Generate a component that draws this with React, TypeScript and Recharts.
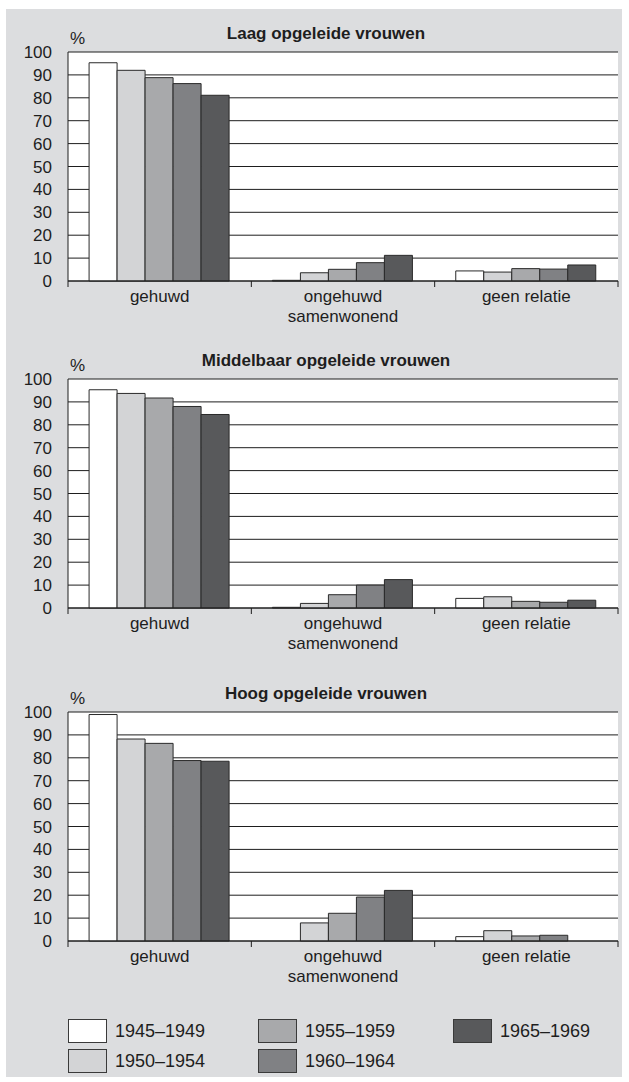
import React from "react";
import { BarChart, Bar, XAxis, YAxis, CartesianGrid } from "recharts";

const PERIODS = ["1945–1949", "1950–1954", "1955–1959", "1960–1964", "1965–1969"];
const CATEGORIES = ["gehuwd", "ongehuwd\nsamenwonend", "geen relatie"];
const Y_TICKS = [0, 10, 20, 30, 40, 50, 60, 70, 80, 90, 100];

// per panel, one array per birth cohort: [gehuwd, ongehuwd samenwonend, geen relatie]
const LAAG_1945 = [95.3, 0.3, 4.4];
const LAAG_1950 = [92.0, 3.6, 3.9];
const LAAG_1955 = [88.8, 5.1, 5.4];
const LAAG_1960 = [86.2, 8.0, 5.2];
const LAAG_1965 = [81.1, 11.2, 7.0];

const MIDDEL_1945 = [95.3, 0.3, 4.2];
const MIDDEL_1950 = [93.7, 2.0, 4.9];
const MIDDEL_1955 = [91.7, 5.8, 2.9];
const MIDDEL_1960 = [88.0, 10.0, 2.5];
const MIDDEL_1965 = [84.5, 12.4, 3.4];

const HOOG_1945 = [98.9, 0, 1.9];
const HOOG_1950 = [88.2, 7.9, 4.5];
const HOOG_1955 = [86.3, 12.1, 2.2];
const HOOG_1960 = [78.8, 19.2, 2.5];
const HOOG_1965 = [78.5, 22.1, 0];

const PANELS = [
  { title: "Laag opgeleide vrouwen", series: [LAAG_1945, LAAG_1950, LAAG_1955, LAAG_1960, LAAG_1965] },
  { title: "Middelbaar opgeleide vrouwen", series: [MIDDEL_1945, MIDDEL_1950, MIDDEL_1955, MIDDEL_1960, MIDDEL_1965] },
  { title: "Hoog opgeleide vrouwen", series: [HOOG_1945, HOOG_1950, HOOG_1955, HOOG_1960, HOOG_1965] },
];

const COLORS = ["#ffffff", "#d3d4d6", "#a8a9ab", "#808184", "#58595b"];
const INK = "#1e1e1e";
const BG = "#dcdddf";
const FONT = '"Liberation Sans", Arial, sans-serif';

const CHART_W = 629;
const CHART_H = 340;
const PLOT_LEFT = 68;
const PLOT_RIGHT = 618;
const PANEL_TOPS = [0, 327, 660];
const BAND = (PLOT_RIGHT - PLOT_LEFT) / CATEGORIES.length;

const toRows = (series: number[][]) =>
  CATEGORIES.map((name, i) => {
    const row: Record<string, string | number> = { name };
    PERIODS.forEach((p, s) => {
      row[p] = series[s][i];
    });
    return row;
  });

// eslint-disable-next-line @typescript-eslint/no-explicit-any
const CategoryTick = (props: any) => {
  const { x, y, payload, index } = props;
  const lines = String(payload.value).split("\n");
  const half = BAND / 2;
  return (
    <g>
      <line x1={x - half} x2={x - half} y1={y} y2={y + 6} stroke={INK} />
      {index === CATEGORIES.length - 1 && (
        <line x1={x + half} x2={x + half} y1={y} y2={y + 6} stroke={INK} />
      )}
      <text x={x} y={y} textAnchor="middle" fontSize={17} fill={INK}>
        {lines.map((l, i) => (
          <tspan key={i} x={x} dy={i === 0 ? 21 : 20}>
            {l}
          </tspan>
        ))}
      </text>
    </g>
  );
};

const Panel = ({ title, series, top }: { title: string; series: number[][]; top: number }) => (
  <div style={{ position: "absolute", left: 0, top, width: CHART_W, height: CHART_H }}>
    <div
      style={{
        position: "absolute",
        left: 326,
        top: 24,
        transform: "translateX(-50%)",
        whiteSpace: "nowrap",
        fontWeight: "bold",
        fontSize: 17,
        lineHeight: "20px",
        color: INK,
      }}
    >
      {title}
    </div>
    <div style={{ position: "absolute", left: 70, top: 29, fontSize: 17, lineHeight: "20px", color: INK }}>%</div>
    <BarChart
      width={CHART_W}
      height={CHART_H}
      data={toRows(series)}
      margin={{ top: 52, right: CHART_W - PLOT_RIGHT, left: 0, bottom: 0 }}
      barCategoryGap="11.5%"
      barGap={0}
    >
      <CartesianGrid vertical={false} stroke={INK} fill="#ffffff" strokeOpacity={1} />
      <XAxis
        dataKey="name"
        interval={0}
        height={CHART_H - 52 - 229}
        tickLine={false}
        tickSize={0}
        tickMargin={0}
        axisLine={{ stroke: INK }}
        tick={<CategoryTick />}
      />
      <YAxis
        width={PLOT_LEFT}
        domain={[0, 100]}
        ticks={Y_TICKS}
        interval={0}
        tickLine={false}
        tickSize={0}
        tickMargin={16}
        axisLine={{ stroke: INK }}
        tick={{ fontSize: 17, fill: INK }}
      />
      <YAxis
        yAxisId="right"
        orientation="right"
        width={0}
        domain={[0, 100]}
        tick={false}
        tickLine={false}
        axisLine={{ stroke: INK }}
      />
      {PERIODS.map((p, i) => (
        <Bar key={p} dataKey={p} fill={COLORS[i]} stroke="#2a2a2a" strokeWidth={1} isAnimationActive={false} />
      ))}
    </BarChart>
  </div>
);

const LEGEND_COLS = [68, 258, 453];
const LEGEND_ROWS = [1019, 1049];

export default function App() {
  return (
    <div
      style={{
        position: "absolute",
        left: 0,
        top: 0,
        width: CHART_W,
        height: 1082,
        fontFamily: FONT,
        background: "#ffffff",
      }}
    >
      <div style={{ position: "absolute", left: 6, top: 9, width: 616, height: 1068, background: BG }} />
      {PANELS.map((p, i) => (
        <Panel key={p.title} title={p.title} series={p.series} top={PANEL_TOPS[i]} />
      ))}
      {PERIODS.map((p, i) => (
        <div
          key={p}
          style={{
            position: "absolute",
            left: LEGEND_COLS[Math.floor(i / 2)],
            top: LEGEND_ROWS[i % 2],
            display: "flex",
            alignItems: "center",
            height: 24,
          }}
        >
          <div
            style={{
              width: 37,
              height: 22,
              background: COLORS[i],
              border: "1px solid #3a3a3a",
            }}
          />
          <span style={{ marginLeft: 8, fontSize: 18, color: INK }}>{p}</span>
        </div>
      ))}
    </div>
  );
}
